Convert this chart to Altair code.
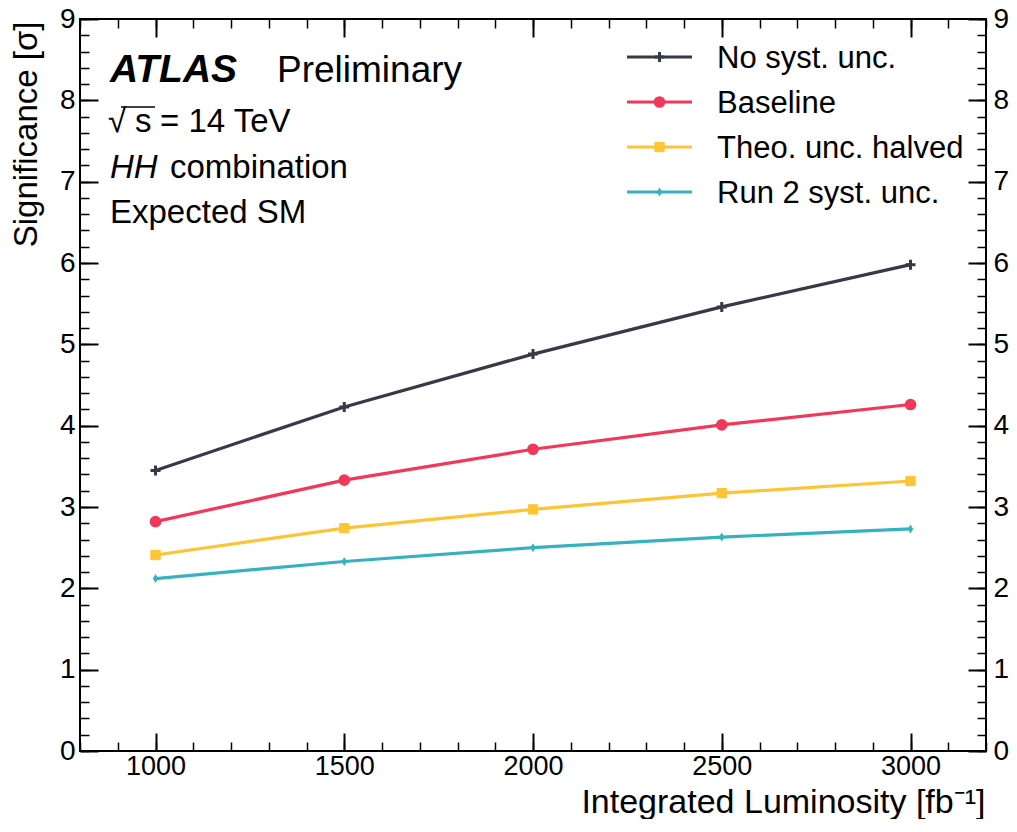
import altair as alt
import pandas as pd

# ---------------- data ----------------
LUMI = [1000, 1500, 2000, 2500, 3000]
SERIES = ["No syst. unc.", "Baseline", "Theo. unc. halved", "Run 2 syst. unc."]
NO_SYST = [3.45, 4.23, 4.88, 5.46, 5.98]
BASELINE = [2.82, 3.33, 3.71, 4.01, 4.26]
THEO_HALVED = [2.41, 2.74, 2.97, 3.17, 3.32]
RUN2 = [2.12, 2.33, 2.50, 2.63, 2.73]

COLORS = ["#363a46", "#f2385a", "#fdc536", "#36b1bf"]
SHAPES = ["M-1,0H1M0,-1V1", "circle", "square", "M0,-1L0.6,0L0,1L-0.6,0Z"]
SIZES = [100, 81, 81, 170]
STROKES = [3.0, 0.0, 0.0, 1.0]

X_MAJOR = [1000, 1500, 2000, 2500, 3000]
X_MINOR = [800, 900, 1000, 1100, 1200, 1300, 1400, 1500, 1600, 1700, 1800, 1900,
           2000, 2100, 2200, 2300, 2400, 2500, 2600, 2700, 2800, 2900, 3000, 3100, 3200]
Y_MAJOR = [0, 1, 2, 3, 4, 5, 6, 7, 8, 9]
Y_MINOR = [0, 0.2, 0.4, 0.6, 0.8, 1, 1.2, 1.4, 1.6, 1.8, 2, 2.2, 2.4, 2.6, 2.8, 3, 3.2,
           3.4, 3.6, 3.8, 4, 4.2, 4.4, 4.6, 4.8, 5, 5.2, 5.4, 5.6, 5.8, 6, 6.2, 6.4, 6.6,
           6.8, 7, 7.2, 7.4, 7.6, 7.8, 8, 8.2, 8.4, 8.6, 8.8, 9]
X_DOMAIN = [800, 3200]
Y_DOMAIN = [0, 9]

X_TITLE = "Integrated Luminosity [fb⁻¹]"
Y_TITLE = "Significance [σ]"
TXT_ATLAS = "ATLAS"
TXT_PRELIM = "Preliminary"
TXT_SQRT = "√"
TXT_S = "s"
TXT_ENERGY = "= 14 TeV"
TXT_HH = "HH"
TXT_COMB = "combination"
TXT_EXP = "Expected SM"

FONT = "Liberation Sans"
W, H = 906, 732

rows = []
for name, vals in zip(SERIES, [NO_SYST, BASELINE, THEO_HALVED, RUN2]):
    for l, v in zip(LUMI, vals):
        rows.append({"lumi": l, "sig": v, "series": name})
df = pd.DataFrame(rows)

xscale = alt.Scale(domain=X_DOMAIN, nice=False, zero=False)
yscale = alt.Scale(domain=Y_DOMAIN, nice=False, zero=False)
cscale = alt.Scale(domain=SERIES, range=COLORS)
shscale = alt.Scale(domain=SERIES, range=SHAPES)
szscale = alt.Scale(domain=SERIES, range=SIZES)
swscale = alt.Scale(domain=SERIES, range=STROKES)


def tick_axis(orient, offset, values, size, width):
    return alt.Axis(orient=orient, offset=offset, values=values, labels=False,
                    domain=False, ticks=True, tickSize=size, tickWidth=width,
                    tickColor="black", grid=False, title="")


base = alt.Chart(df)

lines = base.mark_line(strokeWidth=3.2).encode(
    x=alt.X("lumi:Q", scale=xscale, axis=alt.Axis(
        orient="bottom", values=X_MAJOR, format="d", labelFontSize=27, labelPadding=2,
        ticks=False, tickSize=0, domain=False, grid=False, title=X_TITLE,
        titleFontSize=34, titleFontWeight="normal", titleX=W - 1, titleY=61,
        titleAlign="right", titleBaseline="alphabetic", titleAngle=0)),
    y=alt.Y("sig:Q", scale=yscale, axis=alt.Axis(
        orient="left", values=Y_MAJOR, labelFontSize=28, labelPadding=5,
        ticks=False, tickSize=0, domain=False, grid=False, title=Y_TITLE,
        titleFontSize=33, titleFontWeight="normal", titleAngle=270, titleX=-44,
        titleY=2, titleAlign="right", titleBaseline="alphabetic")),
    color=alt.Color("series:N", scale=cscale, legend=None),
)

points = base.mark_point(filled=True, opacity=1).encode(
    x=alt.X("lumi:Q", scale=xscale, axis=tick_axis("top", -H, X_MAJOR, 18, 2)),
    y=alt.Y("sig:Q", scale=yscale, axis=alt.Axis(
        orient="right", values=Y_MAJOR, labelFontSize=28, labelPadding=7,
        ticks=False, tickSize=0, domain=False, grid=False, title="")),
    color=alt.Color("series:N", scale=cscale, legend=None),
    stroke=alt.Stroke("series:N", scale=cscale, legend=None),
    shape=alt.Shape("series:N", scale=shscale, legend=None),
    size=alt.Size("series:N", scale=szscale, legend=None),
    strokeWidth=alt.StrokeWidth("series:N", scale=swscale, legend=None),
)

ghost1 = base.mark_point(opacity=0).encode(
    x=alt.X("lumi:Q", scale=xscale, axis=tick_axis("top", -H, X_MINOR, 9, 1.5)),
    y=alt.Y("sig:Q", scale=yscale, axis=tick_axis("right", -W, Y_MAJOR, 18, 2)),
)
ghost2 = base.mark_point(opacity=0).encode(
    x=alt.X("lumi:Q", scale=xscale, axis=tick_axis("bottom", -H, X_MAJOR, 18, 2)),
    y=alt.Y("sig:Q", scale=yscale, axis=tick_axis("right", -W, Y_MINOR, 9, 1.5)),
)
ghost3 = base.mark_point(opacity=0).encode(
    x=alt.X("lumi:Q", scale=xscale, axis=tick_axis("bottom", -H, X_MINOR, 9, 1.5)),
    y=alt.Y("sig:Q", scale=yscale, axis=tick_axis("left", -W, Y_MAJOR, 18, 2)),
)
ghost4 = base.mark_point(opacity=0).encode(
    y=alt.Y("sig:Q", scale=yscale, axis=tick_axis("left", -W, Y_MINOR, 9, 1.5)),
)

# ---------------- legend ----------------
leg = alt.Chart(pd.DataFrame({"series": SERIES}))
yleg = alt.Y("series:N", scale=alt.Scale(type="point", domain=SERIES, range=[38, 173], padding=0),
             axis=None)
leg_rule = leg.mark_rule(strokeWidth=3.2).encode(
    x=alt.value(547), x2=alt.value(612), y=yleg,
    color=alt.Color("series:N", scale=cscale, legend=None))
leg_pts = leg.mark_point(filled=True, opacity=1).encode(
    x=alt.value(579.5), y=yleg,
    color=alt.Color("series:N", scale=cscale, legend=None),
    stroke=alt.Stroke("series:N", scale=cscale, legend=None),
    shape=alt.Shape("series:N", scale=shscale, legend=None),
    size=alt.Size("series:N", scale=szscale, legend=None),
    strokeWidth=alt.StrokeWidth("series:N", scale=swscale, legend=None))
leg_txt = leg.mark_text(align="left", baseline="alphabetic", dy=11, fontSize=31,
                        font=FONT, color="black").encode(
    x=alt.value(637), y=yleg, text="series:N")


# ---------------- annotations ----------------
def label(text, x, y, size, **kw):
    return alt.Chart(pd.DataFrame({"t": [text]})).mark_text(
        align="left", baseline="alphabetic", fontSize=size, font=FONT, color="black", **kw
    ).encode(text="t:N", x=alt.value(x), y=alt.value(y))


ann = [
    label(TXT_ATLAS, 30, 63, 39, fontWeight="bold", fontStyle="italic"),
    label(TXT_PRELIM, 197, 63, 37),
    label(TXT_SQRT, 28, 113, 33),
    label(TXT_S, 55, 113, 33),
    label(TXT_ENERGY, 80, 113, 33),
    label(TXT_HH, 30, 159, 33, fontStyle="italic"),
    label(TXT_COMB, 90, 159, 33),
    label(TXT_EXP, 30, 204, 33),
]
overline = alt.Chart(pd.DataFrame({"t": [TXT_S]})).mark_rule(color="black", strokeWidth=1.6).encode(
    x=alt.value(41), x2=alt.value(75), y=alt.value(88))

chart = alt.layer(
    lines, points, ghost1, ghost2, ghost3, ghost4,
    leg_rule, leg_pts, leg_txt, *ann, overline
).resolve_axis(x="independent", y="independent").resolve_scale(y="independent").properties(
    width=W, height=H,
    padding={"left": 72, "top": 11, "right": 23, "bottom": 68},
    autosize=alt.AutoSizeParams(type="none"),
).configure(font=FONT).configure_axis(
    labelFont=FONT, titleFont=FONT, labelColor="black", titleColor="black", grid=False
).configure_view(stroke="black", strokeWidth=2)

chart.save("out.html", embed_options={"renderer": "svg", "actions": False})
